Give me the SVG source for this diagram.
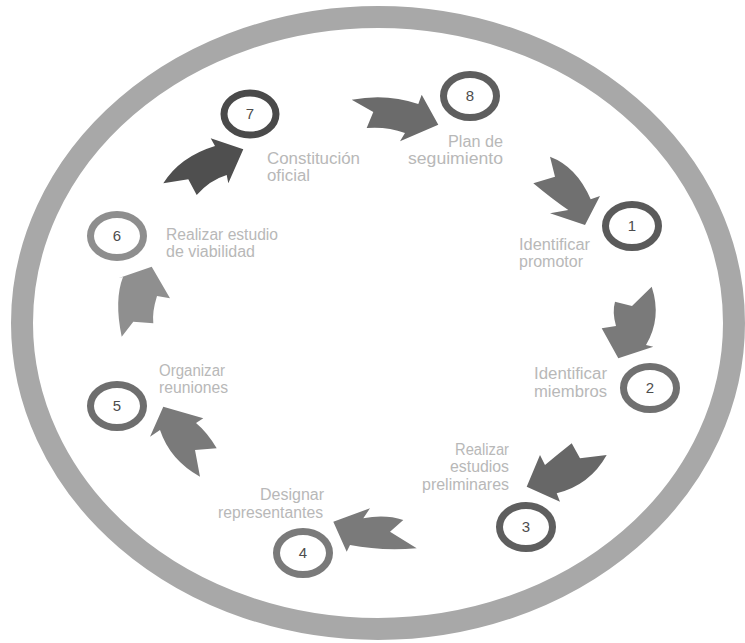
<svg xmlns="http://www.w3.org/2000/svg" width="745" height="643" viewBox="0 0 745 643">
<style>
.lbl{font-family:"Liberation Sans",Arial,sans-serif;font-size:16px;fill:#b8b8b8}
.num{font-family:"Liberation Sans",Arial,sans-serif;font-size:15px;fill:#4d4d4d;text-anchor:middle}
.ring{fill:none;stroke-width:7}
</style>
<rect width="745" height="643" fill="#ffffff"/>
<ellipse id="outer-ring" cx="378" cy="323" rx="356" ry="306" fill="none" stroke="#a8a8a8" stroke-width="22"/>
<g id="connectors">
<path fill="#4f4f4f" d="M163.3,183.3 Q180,156.7 215,146 L210.7,138.3 L243.3,149.3 L228.3,183.3 L226.7,175 Q210,180 196.7,195 L188.3,179.3 Z"/>
<path fill="#6b6b6b" d="M351.7,99.7 Q386.7,93 418.3,104 L421.7,94.7 L438.3,124.7 L400,141.3 L405,133 Q386.7,126.3 366.7,128 L373.3,112 Z"/>
<path fill="#707070" d="M550,156.7 Q576.7,166.7 590.7,199.3 L600,196 L585,225 L550,213.3 L568.3,210 Q553.3,200 533.3,183.3 L555,176.7 Z"/>
<path fill="#7a7a7a" d="M651.7,286.7 Q662,318 646,345 L653.3,346.7 L618.3,358.3 L601.7,328.3 L616,326 Q612,312 615,301.7 L632,306 Z"/>
<path fill="#676767" d="M526.7,486.7 L540,455 L545,465 Q557,455 571.7,443.3 L580,458.3 L606.7,455 Q590,485 556.7,493.3 L560,501.7 Z"/>
<path fill="#7a7a7a" d="M333.3,521.7 L370,508.3 L363.3,518.3 Q385,514 403.3,520 L390,531.7 L416.7,548.3 Q380,551 350,545 L346.7,551.7 Z"/>
<path fill="#7a7a7a" d="M163.3,406.7 L203.3,418.3 L196,423 Q207,432 216.7,448.3 L195,450 L200,476.7 Q170,460 160,430 L150,436.7 Z"/>
<path fill="#8f8f8f" d="M151.7,266.7 L170,298.3 L157,296 Q152,312 153.3,323.3 L133.3,321.7 L121.7,336.7 Q114,300 123,277 L118.3,278.3 Z"/>
</g>
<g id="node-1">
<ellipse class="ring" cx="632" cy="226" rx="26.5" ry="21.5" stroke="#5a5a5a"/>
<text class="num" x="632" y="231">1</text>
<text class="lbl" x="519" y="250" textLength="71" lengthAdjust="spacingAndGlyphs">Identificar</text>
<text class="lbl" x="519" y="267" textLength="64" lengthAdjust="spacingAndGlyphs">promotor</text>
</g>
<g id="node-2">
<ellipse class="ring" cx="650" cy="388" rx="26.5" ry="21.5" stroke="#707070"/>
<text class="num" x="650" y="393">2</text>
<text class="lbl" x="534" y="379" textLength="73" lengthAdjust="spacingAndGlyphs">Identificar</text>
<text class="lbl" x="534" y="397" textLength="73" lengthAdjust="spacingAndGlyphs">miembros</text>
</g>
<g id="node-3">
<ellipse class="ring" cx="526" cy="527" rx="26.5" ry="21.5" stroke="#5e5e5e"/>
<text class="num" x="526" y="532">3</text>
<text class="lbl" x="455" y="455" textLength="54" lengthAdjust="spacingAndGlyphs">Realizar</text>
<text class="lbl" x="450" y="472" textLength="59" lengthAdjust="spacingAndGlyphs">estudios</text>
<text class="lbl" x="422" y="490" textLength="87" lengthAdjust="spacingAndGlyphs">preliminares</text>
</g>
<g id="node-4">
<ellipse class="ring" cx="303" cy="553" rx="26.5" ry="21.5" stroke="#7a7a7a"/>
<text class="num" x="303" y="558">4</text>
<text class="lbl" x="260" y="500" textLength="64" lengthAdjust="spacingAndGlyphs">Designar</text>
<text class="lbl" x="218" y="518" textLength="105" lengthAdjust="spacingAndGlyphs">representantes</text>
</g>
<g id="node-5">
<ellipse class="ring" cx="117" cy="406" rx="26.5" ry="21.5" stroke="#6e6e6e"/>
<text class="num" x="117" y="411">5</text>
<text class="lbl" x="159" y="376" textLength="66" lengthAdjust="spacingAndGlyphs">Organizar</text>
<text class="lbl" x="159" y="393" textLength="69" lengthAdjust="spacingAndGlyphs">reuniones</text>
</g>
<g id="node-6">
<ellipse class="ring" cx="117" cy="236" rx="26.5" ry="21.5" stroke="#8e8e8e"/>
<text class="num" x="117" y="241">6</text>
<text class="lbl" x="166" y="240" textLength="112" lengthAdjust="spacingAndGlyphs">Realizar estudio</text>
<text class="lbl" x="166" y="257" textLength="89" lengthAdjust="spacingAndGlyphs">de viabilidad</text>
</g>
<g id="node-7">
<ellipse class="ring" cx="250" cy="114" rx="26" ry="21" stroke="#4a4a4a"/>
<text class="num" x="250" y="119">7</text>
<text class="lbl" x="267" y="164" textLength="93" lengthAdjust="spacingAndGlyphs">Constitución</text>
<text class="lbl" x="267" y="181" textLength="43" lengthAdjust="spacingAndGlyphs">oficial</text>
</g>
<g id="node-8">
<ellipse class="ring" cx="470" cy="96" rx="26.5" ry="21.5" stroke="#5e5e5e"/>
<text class="num" x="470" y="101">8</text>
<text class="lbl" x="448" y="147" textLength="55" lengthAdjust="spacingAndGlyphs">Plan de</text>
<text class="lbl" x="408" y="164" textLength="95" lengthAdjust="spacingAndGlyphs">seguimiento</text>
</g>
</svg>
